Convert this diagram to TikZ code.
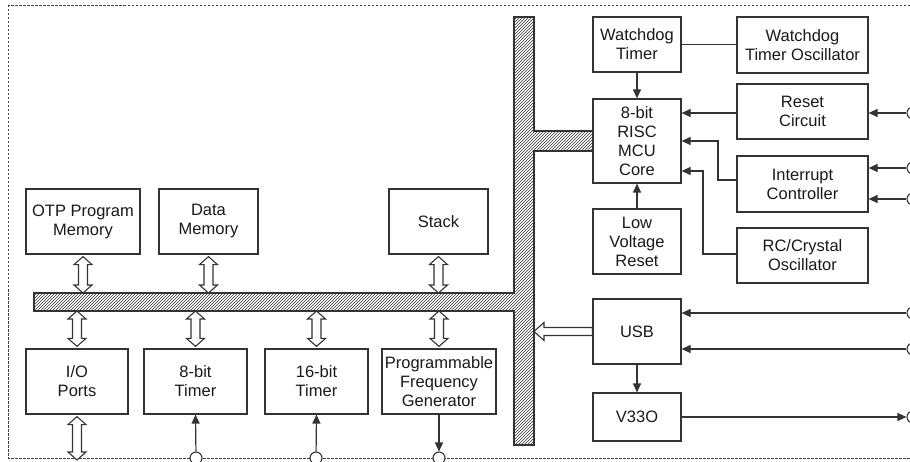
\documentclass[tikz,border=0pt]{standalone}
\usepackage{fontspec}
\setmainfont{Liberation Sans}
\usetikzlibrary{arrows.meta,patterns,calc}
\newcommand\vdarrow[2]{\path[hollow] let \p1=(#1), \p2=(#2) in (\x1,\y1) -- (\x1+9pt,\y1-8pt) -- (\x1+4.5pt,\y1-8pt) -- (\x1+4.5pt,\y2+8pt) -- (\x1+9pt,\y2+8pt) -- (\x1,\y2) -- (\x1-9pt,\y2+8pt) -- (\x1-4.5pt,\y2+8pt) -- (\x1-4.5pt,\y1-8pt) -- (\x1-9pt,\y1-8pt) -- cycle;}
\newcommand\hlarrow[2]{\path[hollow] let \p1=(#1), \p2=(#2) in (\x1,\y1+4pt) -- (\x2+10pt,\y1+4pt) -- (\x2+10pt,\y1+9pt) -- (\x2,\y1) -- (\x2+10pt,\y1-9pt) -- (\x2+10pt,\y1-4pt) -- (\x1,\y1-4pt) -- cycle;}
\begin{document}
\begin{tikzpicture}[x=1pt,y=-1pt,
  ln/.style={draw=black!80,line width=1.2pt},
  box/.style={ln,rectangle,inner sep=0pt,align=center,text=black!90,
    font=\fontsize{16.5}{19}\selectfont},
  hollow/.style={draw=black!80,line width=1.1pt,fill=white,line join=miter},
  conn/.style={draw=black!80,line width=1.2pt},
  arr/.style={conn,-{Triangle[length=9pt,width=8pt]}},
  pinc/.style={circle,draw=black!80,line width=1.1pt,fill=white,minimum size=12pt,inner sep=0pt},
  border/.style={draw=black!75,line width=0.8pt,dash pattern=on 2.5pt off 1.5pt}]
\useasboundingbox (0,0) rectangle (910,462);
\clip (0,0) rectangle (910,462);
% outer dashed frame
\draw[border] (8,5) rectangle (930,458);
% bus
\draw[draw=black!80,line width=1.1pt,pattern=north east lines,pattern color=black!80]
  (34,293) -- (514,293) -- (514,17) -- (534,17) -- (534,131) -- (593,131) -- (593,151)
  -- (534,151) -- (534,445) -- (514,445) -- (514,311) -- (34,311) -- cycle;
\coordinate (busT) at (0,293);
\coordinate (busB) at (0,311);
\coordinate (busR) at (534,0);
% left boxes
\node[box,minimum width=114pt,minimum height=65pt] (otp) at (83,221.5) {OTP Program\\Memory};
\node[box,minimum width=99pt,minimum height=65pt] (dmem) at (208.5,221.5) {Data\\Memory};
\node[box,minimum width=99pt,minimum height=65pt] (stack) at (438.5,221.5) {Stack};
\node[box,minimum width=102pt,minimum height=65pt] (io) at (77,381.5) {I/O\\Ports};
\node[box,minimum width=103pt,minimum height=65pt] (t8) at (195.5,381.5) {8-bit\\Timer};
\node[box,minimum width=103pt,minimum height=65pt] (t16) at (316.5,381.5) {16-bit\\Timer};
\node[box,minimum width=114pt,minimum height=65pt] (pfg) at (439,381.5) {Programmable\\Frequency\\Generator};
% right boxes
\node[box,minimum width=88pt,minimum height=55pt] (wdt) at (637,44.5) {Watchdog\\Timer};
\node[box,minimum width=131pt,minimum height=56pt] (wdto) at (802.5,45) {Watchdog\\Timer Oscillator};
\node[box,minimum width=88pt,minimum height=84pt] (core) at (637,141) {8-bit\\RISC\\MCU\\Core};
\node[box,minimum width=131pt,minimum height=55pt] (reset) at (802.5,111.5) {Reset\\Circuit};
\node[box,minimum width=131pt,minimum height=56pt] (intc) at (802.5,184) {Interrupt\\Controller};
\node[box,minimum width=131pt,minimum height=55pt] (rc) at (802.5,255.5) {RC/Crystal\\Oscillator};
\node[box,minimum width=88pt,minimum height=65pt] (lvr) at (637,241.5) {Low\\Voltage\\Reset};
\node[box,minimum width=88pt,minimum height=65pt] (usb) at (637,331.5) {USB};
\node[box,minimum width=88pt,minimum height=48pt] (v33) at (637,417) {V33O};
% double arrows to bus
\vdarrow{[yshift=-2pt]otp.south}{otp.south |- busT}
\vdarrow{[yshift=-2pt]dmem.south}{dmem.south |- busT}
\vdarrow{[yshift=-2pt]stack.south}{stack.south |- busT}
\vdarrow{io.north |- busB}{[yshift=2pt]io.north}
\vdarrow{t8.north |- busB}{[yshift=2pt]t8.north}
\vdarrow{t16.north |- busB}{[yshift=2pt]t16.north}
\vdarrow{pfg.north |- busB}{[yshift=2pt]pfg.north}
\coordinate (iobot) at (77,460);
\vdarrow{[yshift=-2pt]io.south}{iobot}
\hlarrow{usb.west}{busR |- usb.west}
% pins
\node[pinc] (b1) at (196,458) {};
\node[pinc] (b2) at (316,458) {};
\node[pinc] (b3) at (439,458) {};
\node[pinc] (r1) at (913,113) {};
\node[pinc] (r2) at (913,168) {};
\node[pinc] (r3) at (913,199) {};
\node[pinc] (r4) at (913,313) {};
\node[pinc] (r5) at (913,349) {};
\node[pinc] (r6) at (913,417) {};
% connectors
\draw[conn] (wdt.east) -- (wdto.west |- wdt.east);
\draw[arr] (wdt.south) -- (core.north);
\draw[arr] (lvr.north) -- (core.south);
\draw[arr] (reset.west |- 0,113) -- (core.east |- 0,113);
\draw[arr] (intc.west |- 0,180) -- (718,180) -- (718,141) -- (core.east |- 0,141);
\draw[arr] (rc.west |- 0,254) -- (703,254) -- (703,171) -- (core.east |- 0,171);
\draw[arr] (r1) -- (reset.east |- r1);
\draw[arr] (r2) -- (intc.east |- r2);
\draw[arr] (r3) -- (intc.east |- r3);
\draw[arr] (r4) -- (usb.east |- r4);
\draw[arr] (r5) -- (usb.east |- r5);
\draw[arr] (usb.south) -- (v33.north);
\draw[arr] (v33.east) -- (r6);
\draw[arr] (b1) -- (t8.south);
\draw[arr] (b2) -- (t16.south);
\draw[arr] (pfg.south) -- (b3);
\end{tikzpicture}
\end{document}
